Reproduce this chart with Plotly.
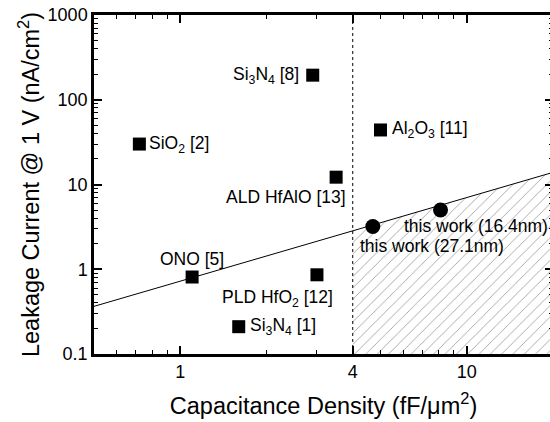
import numpy as np
import plotly.graph_objects as go

# ---------------- data ----------------
sq_labels = ["Si<sub>3</sub>N<sub>4</sub> [8]", "SiO<sub>2</sub> [2]", "Al<sub>2</sub>O<sub>3</sub> [11]",
             "ALD HfAlO [13]", "ONO [5]", "PLD HfO<sub>2</sub> [12]", "Si<sub>3</sub>N<sub>4</sub> [1]"]
sq_cap = [2.9, 0.72, 5.0, 3.5, 1.1, 3.0, 1.6]
sq_leak = [195, 30, 44, 12.2, 0.81, 0.86, 0.21]

work_labels = ["this work (27.1nm)", "this work (16.4nm)"]
work_cap = [4.7, 8.1]
work_leak = [3.2, 5.0]

fit_cap = [0.5, 20]
fit_leak = [0.365, 13.9]

region_cap = [4, 4, 20, 20, 4]
region_leak = [0.1, 2.85, 13.9, 0.1, 0.1]

boundary_cap = [4, 4]
boundary_leak = [0.1, 1000]

xtick_vals = [1, 4, 10]
xtick_text = ["1", "4", "10"]
ytick_vals = [0.1, 1, 10, 100, 1000]
ytick_text = ["0.1", "1", "10", "100", "1000"]
xminor_vals = [0.6, 0.7, 0.8, 0.9, 2, 3, 5, 6, 7, 8, 9, 20]
yminor_vals = [m * d for d in [0.1, 1, 10, 100] for m in range(2, 10)]

# label placement (style): xanchor, xshift, yshift
sq_label_pos = [("right", -12, 0), ("left", 8, 0), ("left", 9, 0), ("right", 12, -20),
                ("center", 0, 18), ("right", 18, -24), ("left", 9, 0)]
work_label_pos = [("left", -15, -20), ("left", -39, -16)]

FONT = "Liberation Sans, Arial, sans-serif"

fig = go.Figure()

# hatched region
fig.add_trace(go.Scatter(
    x=region_cap, y=region_leak, mode="lines",
    line=dict(color="rgba(0,0,0,0)", width=0),
    fill="toself", fillcolor="rgba(0,0,0,0)",
    fillpattern=dict(shape="/", fgcolor="rgba(0,0,0,0.8)", bgcolor="rgba(0,0,0,0)",
                     size=8, solidity=0.1),
    hoverinfo="skip", showlegend=False))

# vertical dotted boundary
fig.add_trace(go.Scatter(
    x=boundary_cap, y=boundary_leak, mode="lines",
    line=dict(color="black", width=1, dash="dot"),
    hoverinfo="skip", showlegend=False))

# fit line
fig.add_trace(go.Scatter(
    x=fit_cap, y=fit_leak, mode="lines",
    line=dict(color="black", width=1),
    showlegend=False))

# literature squares
fig.add_trace(go.Scatter(
    x=sq_cap, y=sq_leak, mode="markers",
    marker=dict(symbol="square", size=13, color="black"),
    showlegend=False))

# this work circles
fig.add_trace(go.Scatter(
    x=work_cap, y=work_leak, mode="markers",
    marker=dict(symbol="circle", size=15, color="black"),
    showlegend=False))

annotations = []
for lab, cx, ly, (xa, xs, ys) in zip(sq_labels, sq_cap, sq_leak, sq_label_pos):
    annotations.append(dict(x=np.log10(cx), y=np.log10(ly), xref="x", yref="y", text=lab,
                            showarrow=False, xanchor=xa, yanchor="middle", xshift=xs, yshift=ys,
                            font=dict(family=FONT, size=17.5, color="black")))
for lab, cx, ly, (xa, xs, ys) in zip(work_labels, work_cap, work_leak, work_label_pos):
    annotations.append(dict(x=np.log10(cx), y=np.log10(ly), xref="x", yref="y", text=lab,
                            showarrow=False, xanchor=xa, yanchor="middle", xshift=xs, yshift=ys,
                            font=dict(family=FONT, size=17.5, color="black")))

axis_common = dict(
    showgrid=False, zeroline=False, showline=True, linecolor="black", linewidth=2.5,
    mirror="allticks", ticks="inside", ticklen=8, tickwidth=1.5, tickcolor="black",
    tickfont=dict(family=FONT, size=18, color="black"), automargin=False,
)

fig.update_layout(
    width=553, height=422,
    margin=dict(l=94, r=0, t=15, b=68),
    paper_bgcolor="white", plot_bgcolor="white",
    font=dict(family=FONT, color="black"),
    annotations=annotations,
    hovermode=False,
    xaxis=dict(type="log", range=[np.log10(0.5), np.log10(20)],
               tickmode="array", tickvals=xtick_vals, ticktext=xtick_text,
               minor=dict(tickmode="array", tickvals=xminor_vals, ticks="inside",
                          ticklen=4, tickwidth=1.2, tickcolor="black", showgrid=False),
               title=dict(text="Capacitance Density (fF/\u03bcm<sup>2</sup>)",
                          font=dict(family=FONT, size=23.5, color="black"), standoff=17),
               **axis_common),
    yaxis=dict(type="log", range=[-1, 3],
               tickmode="array", tickvals=ytick_vals, ticktext=ytick_text,
               minor=dict(tickmode="array", tickvals=yminor_vals, ticks="inside",
                          ticklen=4, tickwidth=1.2, tickcolor="black", showgrid=False),
               title=dict(text="Leakage Current @ 1 V (nA/cm<sup>2</sup>)",
                          font=dict(family=FONT, size=23.5, color="black"), standoff=2),
               **axis_common),
)

page_css = ("document.body.style.margin='0';"
            "document.body.style.overflow='hidden';"
            "document.documentElement.style.overflow='hidden';")

fig.write_html("out.html", post_script=page_css, config={"displayModeBar": False})
